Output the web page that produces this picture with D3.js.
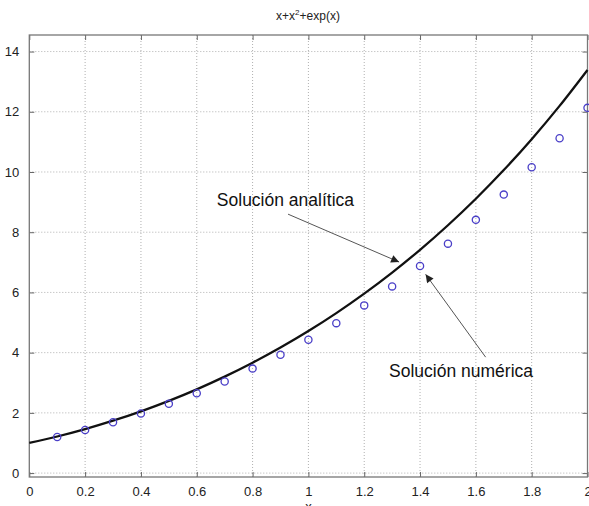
<!DOCTYPE html>
<html>
<head>
<meta charset="utf-8">
<script src="https://cdn.jsdelivr.net/npm/d3@7"></script>
<style>
html,body{margin:0;padding:0;background:#fff;overflow:hidden;}
svg{display:block;}
text{font-family:"Liberation Sans",Arial,Helvetica,sans-serif;}
</style>
</head>
<body>
<svg id="chart" width="589" height="506"></svg>
<script>
// ---- data ----
const xTicks = [0, 0.2, 0.4, 0.6, 0.8, 1, 1.2, 1.4, 1.6, 1.8, 2];
const xTickLabels = ["0", "0.2", "0.4", "0.6", "0.8", "1", "1.2", "1.4", "1.6", "1.8", "2"];
const yTicks = [0, 2, 4, 6, 8, 10, 12, 14];
const yTickLabels = ["0", "2", "4", "6", "8", "10", "12", "14"];

// analytic solution (solid black curve), sampled every 0.1
const analyticX = [0, 0.1, 0.2, 0.3, 0.4, 0.5, 0.6, 0.7, 0.8, 0.9, 1.0,
                   1.1, 1.2, 1.3, 1.4, 1.5, 1.6, 1.7, 1.8, 1.9, 2.0];
const analyticY = [1.00, 1.215, 1.461, 1.740, 2.052, 2.399, 2.782, 3.204, 3.666, 4.170, 4.718,
                   5.314, 5.960, 6.659, 7.415, 8.232, 9.113, 10.064, 11.090, 12.196, 13.389];

// numerical solution (blue circles)
const numericX = [0.1, 0.2, 0.3, 0.4, 0.5, 0.6, 0.7, 0.8, 0.9, 1.0,
                  1.1, 1.2, 1.3, 1.4, 1.5, 1.6, 1.7, 1.8, 1.9, 2.0];
const numericY = [1.20, 1.43, 1.69, 1.98, 2.30, 2.65, 3.04, 3.47, 3.93, 4.43,
                  4.98, 5.57, 6.20, 6.88, 7.62, 8.41, 9.25, 10.16, 11.12, 12.13];

const titleText = "x+x";
const annotations = [
  {label: "Solución analítica", tx: 0.672, ty: 8.87, fromX: 0.927, fromY: 8.60, toX: 1.325, toY: 7.01},
  {label: "Solución numérica", tx: 1.289, ty: 3.19, fromX: 1.635, fromY: 3.85, toX: 1.42, toY: 6.6}
];

// ---- layout ----
const svg = d3.select("#chart");
const L = 29.3, R = 587.5, T = 35, B = 477;
const x = d3.scaleLinear().domain([0, 2]).range([L, R]);
const y = d3.scaleLinear().domain([-0.13, 14.55]).range([B, T]);

// grid
const grid = svg.append("g");
grid.selectAll("line.gx").data(xTicks.slice(1, -1)).join("line")
  .attr("x1", d => x(d)).attr("x2", d => x(d)).attr("y1", T).attr("y2", B)
  .attr("stroke", "#b0b0b0").attr("stroke-width", 1).attr("stroke-dasharray", "1,2");
grid.selectAll("line.gy").data(yTicks).join("line")
  .attr("x1", L).attr("x2", R).attr("y1", d => y(d)).attr("y2", d => y(d))
  .attr("stroke", "#b0b0b0").attr("stroke-width", 1).attr("stroke-dasharray", "1,2");

// axes via d3 axis generators (inward ticks)
const tickLen = 5;
const axisStyle = g => {
  g.select(".domain").remove();
  g.selectAll(".tick line").attr("stroke", "#666");
  g.selectAll(".tick text").attr("fill", "#222").style("font-size", "13px")
   .style("font-family", "'Liberation Sans', Arial, sans-serif");
};
svg.append("g").attr("transform", `translate(0,${B})`)
  .call(d3.axisBottom(x).tickValues(xTicks).tickFormat((d, i) => xTickLabels[i])
        .tickSizeInner(-tickLen).tickSizeOuter(0).tickPadding(10))
  .call(axisStyle);
svg.append("g").attr("transform", `translate(0,${T})`)
  .call(d3.axisTop(x).tickValues(xTicks).tickFormat("").tickSizeInner(-tickLen).tickSizeOuter(0))
  .call(axisStyle);
svg.append("g").attr("transform", `translate(${L},0)`)
  .call(d3.axisLeft(y).tickValues(yTicks).tickFormat((d, i) => yTickLabels[i])
        .tickSizeInner(-tickLen).tickSizeOuter(0).tickPadding(10))
  .call(axisStyle);
svg.append("g").attr("transform", `translate(${R},0)`)
  .call(d3.axisRight(y).tickValues(yTicks).tickFormat("").tickSizeInner(-tickLen).tickSizeOuter(0))
  .call(axisStyle);

// frame
svg.append("rect").attr("x", L).attr("y", T).attr("width", R - L).attr("height", B - T)
  .attr("fill", "none").attr("stroke", "#777").attr("stroke-width", 1.3);

// analytic curve
const line = d3.line().x(d => x(d[0])).y(d => y(d[1])).curve(d3.curveCatmullRom);
svg.append("path").datum(analyticX.map((v, i) => [v, analyticY[i]]))
  .attr("d", line).attr("fill", "none").attr("stroke", "#111").attr("stroke-width", 2.3);

// numeric points
svg.append("g").selectAll("circle").data(numericX.map((v, i) => [v, numericY[i]])).join("circle")
  .attr("cx", d => x(d[0])).attr("cy", d => y(d[1])).attr("r", 3.6)
  .attr("fill", "none").attr("stroke", "#4a3fc8").attr("stroke-width", 1.3);

// arrow marker
svg.append("defs").append("marker").attr("id", "ah")
  .attr("viewBox", "0 0 10 10").attr("refX", 10).attr("refY", 5)
  .attr("markerWidth", 10).attr("markerHeight", 8).attr("markerUnits", "userSpaceOnUse")
  .attr("orient", "auto")
  .append("path").attr("d", "M0,0 L10,5 L0,10 Z").attr("fill", "#222");

// annotations
annotations.forEach(a => {
  svg.append("line")
    .attr("x1", x(a.fromX)).attr("y1", y(a.fromY)).attr("x2", x(a.toX)).attr("y2", y(a.toY))
    .attr("stroke", "#555").attr("stroke-width", 1).attr("marker-end", "url(#ah)");
  svg.append("text").attr("x", x(a.tx)).attr("y", y(a.ty))
    .attr("fill", "#111").style("font-size", "17.5px").text(a.label);
});

// title
const t = svg.append("text").attr("x", 308).attr("y", 20).attr("text-anchor", "middle")
  .attr("fill", "#222").style("font-size", "12px");
t.append("tspan").text(titleText);
t.append("tspan").attr("dy", -5).style("font-size", "8px").text("2");
t.append("tspan").attr("dy", 5).text("+exp(x)");

// x axis label (partly cut off at the bottom, as in the reference)
svg.append("text").attr("x", x(1)).attr("y", 511).attr("text-anchor", "middle")
  .attr("fill", "#222").style("font-size", "13px").text("x");
</script>
</body>
</html>
